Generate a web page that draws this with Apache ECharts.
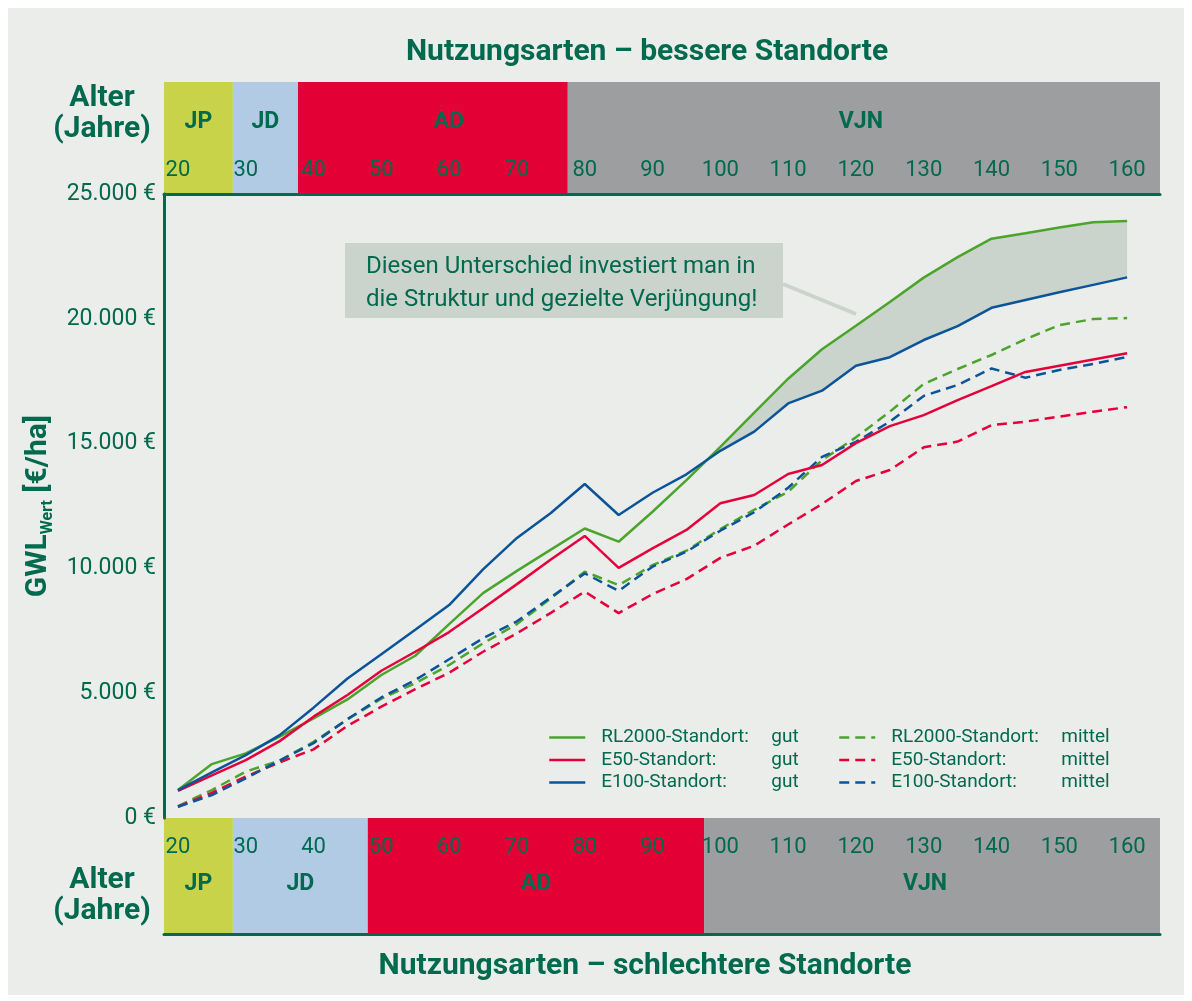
<!DOCTYPE html>
<html>
<head>
<meta charset="utf-8">
<script src="https://cdn.jsdelivr.net/npm/echarts@6/dist/echarts.min.js"></script>
<style>
html,body{margin:0;padding:0;background:#fff;}
#panel{position:absolute;left:8px;top:8px;width:1176px;height:987px;background:#EBEDEA;}
#chart{position:absolute;left:0;top:0;width:1192px;height:1001px;}
</style>
</head>
<body>
<div id="panel"></div>
<div id="chart"></div>
<script>
// Alter in Jahren (5er Schritte)
var ages=[20,25,30,35,40,45,50,55,60,65,70,75,80,85,90,95,100,105,110,115,120,125,130,135,140,145,150,155,160];
var tickAges=[20,30,40,50,60,70,80,90,100,110,120,130,140,150,160];

// GWL-Wert in €/ha
var rlGut=[1120,2160,2590,3260,3990,4750,5730,6500,7770,9010,9900,10750,11600,11070,12270,13540,14870,16240,17600,18780,19720,20670,21650,22470,23210,23430,23660,23870,23920];
var e50Gut=[1090,1710,2320,3080,4060,4930,5900,6660,7450,8400,9370,10360,11300,10020,10800,11540,12610,12940,13780,14140,15020,15700,16140,16740,17300,17870,18120,18370,18620];
var e100Gut=[1120,1830,2520,3320,4420,5590,6560,7540,8530,9960,11220,12220,13380,12140,13030,13770,14710,15480,16610,17120,18120,18460,19150,19710,20440,20750,21060,21360,21660];
var rlMittel=[480,1120,1860,2300,3050,3950,4780,5400,6130,7000,7770,8800,9870,9330,10130,10710,11580,12350,13070,14340,15250,16280,17390,17990,18550,19180,19750,19990,20030];
var e50Mittel=[450,1010,1660,2230,2750,3690,4460,5160,5820,6660,7400,8220,9070,8210,8970,9570,10420,10910,11760,12580,13500,13940,14850,15080,15740,15880,16080,16280,16460];
var e100Mittel=[450,920,1590,2300,3000,3960,4830,5530,6360,7200,7880,8840,9800,9100,10070,10670,11510,12250,13230,14470,15070,15880,16910,17350,18010,17640,17950,18190,18470];

// Nutzungsarten (Grenzen in Jahren)
var bandNames=['JP','JD','AD','VJN'];
var topEdges=[17.94,28.1,37.7,77.5,164.85];
var bottomEdges=[17.94,28.1,48.0,97.6,164.85];

var DG='#006A4E';
var FONT='Roboto';
var bandColors=['#C8D34A','#B1CBE5','#E20035','#9D9E9F'];
var topLabelDx=[0,0,16,-3], bottomLabelDx=[0,0,0,-7];
var cGreen='#4BA42B', cRed='#E3003B', cBlue='#0B5499';

function pairs(vals){
    var r=[];
    for(var i=0;i<ages.length;i++) r.push([ages[i],vals[i]]);
    return r;
}
function bandData(edges){
    var r=[];
    for(var i=0;i<edges.length-1;i++) r.push([edges[i],edges[i+1],i]);
    return r;
}
function euro(v){
    var s=String(v);
    if(s.length>3) s=s.slice(0,s.length-3)+'.'+s.slice(s.length-3);
    return s+' €';
}
function bandRender(textOffset,dx){
    return function(params,api){
        var a=api.coord([api.value(0),1]);
        var b=api.coord([api.value(1),0]);
        var i=api.value(2);
        return {type:'group',children:[
            {type:'rect',shape:{x:a[0],y:a[1],width:b[0]-a[0],height:b[1]-a[1]},style:{fill:bandColors[i]}},
            {type:'text',x:(a[0]+b[0])/2+dx[i],y:a[1]+textOffset,style:{text:bandNames[i],fill:DG,font:'bold 23px '+FONT,align:'center',verticalAlign:'middle'}}
        ]};
    };
}
// Fläche zwischen RL2000 gut und E100 gut, ab dem Schnittpunkt
function gapRender(params,api){
    if(params.dataIndex!==0) return;
    var start=0, cross=null;
    for(var i=13;i<ages.length-1;i++){
        var d0=rlGut[i]-e100Gut[i], d1=rlGut[i+1]-e100Gut[i+1];
        if(d0<=0 && d1>0){
            var t=d0/(d0-d1);
            cross=[ages[i]+t*(ages[i+1]-ages[i]), rlGut[i]+t*(rlGut[i+1]-rlGut[i])];
            start=i+1;
            break;
        }
    }
    var pts=[api.coord(cross)];
    for(var j=start;j<ages.length;j++) pts.push(api.coord([ages[j],rlGut[j]]));
    for(var k=ages.length-1;k>=start;k--) pts.push(api.coord([ages[k],e100Gut[k]]));
    return {type:'polygon',shape:{points:pts},style:{fill:'#CBD4CC'}};
}

var chart=echarts.init(document.getElementById('chart'),null,{renderer:'canvas'});

function lineSeries(name,vals,color,dashed){
    return {
        name:name,type:'line',xAxisIndex:1,yAxisIndex:1,
        data:pairs(vals),symbol:'none',z:3,
        lineStyle:{color:color,width:2.5,type:dashed?[10,6]:'solid'},
        itemStyle:{color:color}
    };
}
var legendText={fontFamily:FONT,fontSize:19,color:DG,lineHeight:19,
    rich:{a:{fontFamily:FONT,fontSize:19,color:DG,width:170,padding:[0,0,0,11],lineHeight:19},
          b:{fontFamily:FONT,fontSize:19,color:DG,lineHeight:19}}};
function legendFmt(n){
    var p=n.split(': ');
    return '{a|'+p[0]+':}{b|'+p[1]+'}';
}
function legendBox(x,names){
    return {left:x,top:728,orient:'vertical',padding:0,itemWidth:36,itemHeight:14,itemGap:3.5,
        itemStyle:{opacity:0},lineStyle:{width:2.5},
        data:names,textStyle:legendText,formatter:legendFmt,selectedMode:false};
}

var option={
    animation:false,
    backgroundColor:'transparent',
    textStyle:{fontFamily:FONT},
    grid:[
        {left:164,right:32,top:82,height:112},
        {left:164,right:32,top:194,height:624},
        {left:164,right:32,top:818,height:116}
    ],
    xAxis:[
        {gridIndex:0,type:'value',min:17.94,max:164.85,position:'bottom',z:10,
         axisLine:{show:true,lineStyle:{color:DG,width:3}},axisTick:{show:false},splitLine:{show:false},
         axisLabel:{inside:true,margin:13,customValues:tickAges,color:DG,fontSize:22,fontFamily:FONT}},
        {gridIndex:1,type:'value',min:17.94,max:164.85,
         axisLine:{show:false},axisTick:{show:false},splitLine:{show:false},axisLabel:{show:false}},
        {gridIndex:2,type:'value',min:17.94,max:164.85,position:'top',z:10,
         axisLine:{show:true,lineStyle:{color:DG,width:3}},axisTick:{show:false},splitLine:{show:false},
         axisLabel:{inside:true,margin:18,customValues:tickAges,color:DG,fontSize:22,fontFamily:FONT}}
    ],
    yAxis:[
        {gridIndex:0,type:'value',min:0,max:1,show:false},
        {gridIndex:1,type:'value',min:0,max:25000,interval:5000,z:10,
         axisLine:{show:true,lineStyle:{color:DG,width:3}},axisTick:{show:false},splitLine:{show:false},
         axisLabel:{color:DG,fontSize:23,fontFamily:FONT,margin:8,formatter:euro},
         name:'{g|GWL}{s|Wert}{g| [€/ha]}',nameLocation:'middle',nameRotate:90,nameGap:108,
         nameTextStyle:{rich:{
            g:{fontFamily:FONT,fontSize:30,fontWeight:'bold',color:DG,lineHeight:34},
            s:{fontFamily:FONT,fontSize:16,fontWeight:'bold',color:DG,lineHeight:16,verticalAlign:'bottom'}
         }}},
        {gridIndex:2,type:'value',min:0,max:1,show:false}
    ],
    legend:[
        legendBox(548,['RL2000-Standort: gut','E50-Standort: gut','E100-Standort: gut']),
        legendBox(838,['RL2000-Standort: mittel','E50-Standort: mittel','E100-Standort: mittel'])
    ],
    graphic:[
        {type:'text',style:{text:'Nutzungsarten – bessere Standorte',x:647,y:52,fill:DG,font:'bold 30px '+FONT,align:'center',verticalAlign:'middle'}},
        {type:'text',style:{text:'Nutzungsarten – schlechtere Standorte',x:645,y:966,fill:DG,font:'bold 30px '+FONT,align:'center',verticalAlign:'middle'}},
        {type:'text',style:{text:'Alter\n(Jahre)',x:102,y:114,fill:DG,font:'bold 30px '+FONT,align:'center',verticalAlign:'middle',lineHeight:31}},
        {type:'text',style:{text:'Alter\n(Jahre)',x:102,y:896,fill:DG,font:'bold 30px '+FONT,align:'center',verticalAlign:'middle',lineHeight:31}},
        {type:'line',z:1,shape:{x1:783,y1:284,x2:856,y2:314},style:{stroke:'#CBD4CC',lineWidth:4}},
        {type:'rect',z:2,shape:{x:345,y:243,width:438,height:75},style:{fill:'#CBD4CC'}},
        {type:'text',z:3,style:{text:'Diesen Unterschied investiert man in\ndie Struktur und gezielte Verjüngung!',x:366,y:283,fill:DG,font:'24px '+FONT,verticalAlign:'middle',lineHeight:33}}
    ],
    series:[
        {type:'custom',xAxisIndex:0,yAxisIndex:0,data:bandData(topEdges),renderItem:bandRender(40,topLabelDx),silent:true,z:1},
        {type:'custom',xAxisIndex:2,yAxisIndex:2,data:bandData(bottomEdges),renderItem:bandRender(66,bottomLabelDx),silent:true,z:1},
        {type:'custom',xAxisIndex:1,yAxisIndex:1,data:[[ages[0],0]],renderItem:gapRender,silent:true,z:1},
        lineSeries('RL2000-Standort: mittel',rlMittel,cGreen,true),
        lineSeries('E50-Standort: mittel',e50Mittel,cRed,true),
        lineSeries('E100-Standort: mittel',e100Mittel,cBlue,true),
        lineSeries('RL2000-Standort: gut',rlGut,cGreen,false),
        lineSeries('E50-Standort: gut',e50Gut,cRed,false),
        lineSeries('E100-Standort: gut',e100Gut,cBlue,false)
    ]
};
chart.setOption(option);
</script>
</body>
</html>
